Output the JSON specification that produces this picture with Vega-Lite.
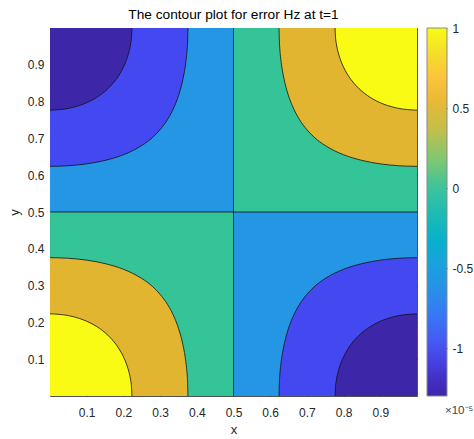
{
"$schema": "https://vega.github.io/schema/vega-lite/v6.json",
"background": "white",
"padding": {"left": 8, "top": 7, "right": 0, "bottom": 0},
"bounds": "flush",
"spacing": 10,
"config": {
  "font": "Liberation Sans",
  "view": {"stroke": null},
  "axis": {"domainColor": "#262626", "tickColor": "#262626", "labelColor": "#262626", "titleColor": "#262626", "labelFont": "Liberation Sans", "titleFont": "Liberation Sans", "labelFontSize": 12, "titleFontSize": 13, "titleFontWeight": "normal", "grid": false, "tickSize": -4, "domainWidth": 0.8, "tickWidth": 0.8},
  "title": {"font": "Liberation Sans", "fontSize": 13.7, "fontWeight": "normal", "color": "#000000", "offset": 5}
},
"datasets": {
  "quads": [
    {"x": 0, "x2": 0.5, "y": 0, "y2": 0.5, "l": "p0"},
    {"x": 0.5, "x2": 1, "y": 0.5, "y2": 1, "l": "p0"},
    {"x": 0, "x2": 0.5, "y": 0.5, "y2": 1, "l": "n0"},
    {"x": 0.5, "x2": 1, "y": 0, "y2": 0.5, "l": "n0"}
  ],
  "zero": [
    {"x": 0.5, "x2": 0.5, "y": 0, "y2": 1},
    {"x": 0, "x2": 1, "y": 0.5, "y2": 0.5}
  ],
  "outer": [
    {"c":"bl","l":"p1","b":0,"x":0,"y":0.3759},{"c":"bl","l":"p1","b":0,"x":0.05,"y":0.3743},{"c":"bl","l":"p1","b":0,"x":0.1,"y":0.3692},{"c":"bl","l":"p1","b":0,"x":0.15,"y":0.3598},{"c":"bl","l":"p1","b":0,"x":0.2,"y":0.3444},{"c":"bl","l":"p1","b":0,"x":0.225,"y":0.3335},{"c":"bl","l":"p1","b":0,"x":0.25,"y":0.3194},{"c":"bl","l":"p1","b":0,"x":0.28,"y":0.297},{"c":"bl","l":"p1","b":0,"x":0.3,"y":0.2762},{"c":"bl","l":"p1","b":0,"x":0.32,"y":0.2491},{"c":"bl","l":"p1","b":0,"x":0.34,"y":0.2107},{"c":"bl","l":"p1","b":0,"x":0.35,"y":0.1843},{"c":"bl","l":"p1","b":0,"x":0.36,"y":0.149},{"c":"bl","l":"p1","b":0,"x":0.365,"y":0.1252},{"c":"bl","l":"p1","b":0,"x":0.37,"y":0.0939},{"c":"bl","l":"p1","b":0,"x":0.372,"y":0.077},{"c":"bl","l":"p1","b":0,"x":0.374,"y":0.0544},{"c":"bl","l":"p1","b":0,"x":0.375,"y":0.0377},{"c":"bl","l":"p1","b":0,"x":0.3759,"y":0},
    {"c":"tr","l":"p1","b":1,"x":1,"y":0.6241},{"c":"tr","l":"p1","b":1,"x":0.95,"y":0.6257},{"c":"tr","l":"p1","b":1,"x":0.9,"y":0.6308},{"c":"tr","l":"p1","b":1,"x":0.85,"y":0.6402},{"c":"tr","l":"p1","b":1,"x":0.8,"y":0.6556},{"c":"tr","l":"p1","b":1,"x":0.775,"y":0.6665},{"c":"tr","l":"p1","b":1,"x":0.75,"y":0.6806},{"c":"tr","l":"p1","b":1,"x":0.72,"y":0.703},{"c":"tr","l":"p1","b":1,"x":0.7,"y":0.7238},{"c":"tr","l":"p1","b":1,"x":0.68,"y":0.7509},{"c":"tr","l":"p1","b":1,"x":0.66,"y":0.7893},{"c":"tr","l":"p1","b":1,"x":0.65,"y":0.8157},{"c":"tr","l":"p1","b":1,"x":0.64,"y":0.851},{"c":"tr","l":"p1","b":1,"x":0.635,"y":0.8748},{"c":"tr","l":"p1","b":1,"x":0.63,"y":0.9061},{"c":"tr","l":"p1","b":1,"x":0.628,"y":0.923},{"c":"tr","l":"p1","b":1,"x":0.626,"y":0.9456},{"c":"tr","l":"p1","b":1,"x":0.625,"y":0.9623},{"c":"tr","l":"p1","b":1,"x":0.6241,"y":1},
    {"c":"tl","l":"n1","b":1,"x":0,"y":0.6241},{"c":"tl","l":"n1","b":1,"x":0.05,"y":0.6257},{"c":"tl","l":"n1","b":1,"x":0.1,"y":0.6308},{"c":"tl","l":"n1","b":1,"x":0.15,"y":0.6402},{"c":"tl","l":"n1","b":1,"x":0.2,"y":0.6556},{"c":"tl","l":"n1","b":1,"x":0.225,"y":0.6665},{"c":"tl","l":"n1","b":1,"x":0.25,"y":0.6806},{"c":"tl","l":"n1","b":1,"x":0.28,"y":0.703},{"c":"tl","l":"n1","b":1,"x":0.3,"y":0.7238},{"c":"tl","l":"n1","b":1,"x":0.32,"y":0.7509},{"c":"tl","l":"n1","b":1,"x":0.34,"y":0.7893},{"c":"tl","l":"n1","b":1,"x":0.35,"y":0.8157},{"c":"tl","l":"n1","b":1,"x":0.36,"y":0.851},{"c":"tl","l":"n1","b":1,"x":0.365,"y":0.8748},{"c":"tl","l":"n1","b":1,"x":0.37,"y":0.9061},{"c":"tl","l":"n1","b":1,"x":0.372,"y":0.923},{"c":"tl","l":"n1","b":1,"x":0.374,"y":0.9456},{"c":"tl","l":"n1","b":1,"x":0.375,"y":0.9623},{"c":"tl","l":"n1","b":1,"x":0.3759,"y":1},
    {"c":"br","l":"n1","b":0,"x":1,"y":0.3759},{"c":"br","l":"n1","b":0,"x":0.95,"y":0.3743},{"c":"br","l":"n1","b":0,"x":0.9,"y":0.3692},{"c":"br","l":"n1","b":0,"x":0.85,"y":0.3598},{"c":"br","l":"n1","b":0,"x":0.8,"y":0.3444},{"c":"br","l":"n1","b":0,"x":0.775,"y":0.3335},{"c":"br","l":"n1","b":0,"x":0.75,"y":0.3194},{"c":"br","l":"n1","b":0,"x":0.72,"y":0.297},{"c":"br","l":"n1","b":0,"x":0.7,"y":0.2762},{"c":"br","l":"n1","b":0,"x":0.68,"y":0.2491},{"c":"br","l":"n1","b":0,"x":0.66,"y":0.2107},{"c":"br","l":"n1","b":0,"x":0.65,"y":0.1843},{"c":"br","l":"n1","b":0,"x":0.64,"y":0.149},{"c":"br","l":"n1","b":0,"x":0.635,"y":0.1252},{"c":"br","l":"n1","b":0,"x":0.63,"y":0.0939},{"c":"br","l":"n1","b":0,"x":0.628,"y":0.077},{"c":"br","l":"n1","b":0,"x":0.626,"y":0.0544},{"c":"br","l":"n1","b":0,"x":0.625,"y":0.0377},{"c":"br","l":"n1","b":0,"x":0.6241,"y":0}
  ],
  "inner": [
    {"c":"bl","l":"p2","b":0,"x":0,"y":0.2233},{"c":"bl","l":"p2","b":0,"x":0.05,"y":0.2185},{"c":"bl","l":"p2","b":0,"x":0.08,"y":0.2107},{"c":"bl","l":"p2","b":0,"x":0.1,"y":0.2031},{"c":"bl","l":"p2","b":0,"x":0.12,"y":0.1931},{"c":"bl","l":"p2","b":0,"x":0.135,"y":0.1836},{"c":"bl","l":"p2","b":0,"x":0.15,"y":0.172},{"c":"bl","l":"p2","b":0,"x":0.165,"y":0.1578},{"c":"bl","l":"p2","b":0,"x":0.18,"y":0.14},{"c":"bl","l":"p2","b":0,"x":0.19,"y":0.1251},{"c":"bl","l":"p2","b":0,"x":0.2,"y":0.1067},{"c":"bl","l":"p2","b":0,"x":0.21,"y":0.0821},{"c":"bl","l":"p2","b":0,"x":0.215,"y":0.0654},{"c":"bl","l":"p2","b":0,"x":0.22,"y":0.0414},{"c":"bl","l":"p2","b":0,"x":0.222,"y":0.0257},{"c":"bl","l":"p2","b":0,"x":0.2233,"y":0},
    {"c":"tr","l":"p2","b":1,"x":1,"y":0.7767},{"c":"tr","l":"p2","b":1,"x":0.95,"y":0.7815},{"c":"tr","l":"p2","b":1,"x":0.92,"y":0.7893},{"c":"tr","l":"p2","b":1,"x":0.9,"y":0.7969},{"c":"tr","l":"p2","b":1,"x":0.88,"y":0.8069},{"c":"tr","l":"p2","b":1,"x":0.865,"y":0.8164},{"c":"tr","l":"p2","b":1,"x":0.85,"y":0.828},{"c":"tr","l":"p2","b":1,"x":0.835,"y":0.8422},{"c":"tr","l":"p2","b":1,"x":0.82,"y":0.86},{"c":"tr","l":"p2","b":1,"x":0.81,"y":0.8749},{"c":"tr","l":"p2","b":1,"x":0.8,"y":0.8933},{"c":"tr","l":"p2","b":1,"x":0.79,"y":0.9179},{"c":"tr","l":"p2","b":1,"x":0.785,"y":0.9346},{"c":"tr","l":"p2","b":1,"x":0.78,"y":0.9586},{"c":"tr","l":"p2","b":1,"x":0.778,"y":0.9743},{"c":"tr","l":"p2","b":1,"x":0.7767,"y":1},
    {"c":"tl","l":"n2","b":1,"x":0,"y":0.7767},{"c":"tl","l":"n2","b":1,"x":0.05,"y":0.7815},{"c":"tl","l":"n2","b":1,"x":0.08,"y":0.7893},{"c":"tl","l":"n2","b":1,"x":0.1,"y":0.7969},{"c":"tl","l":"n2","b":1,"x":0.12,"y":0.8069},{"c":"tl","l":"n2","b":1,"x":0.135,"y":0.8164},{"c":"tl","l":"n2","b":1,"x":0.15,"y":0.828},{"c":"tl","l":"n2","b":1,"x":0.165,"y":0.8422},{"c":"tl","l":"n2","b":1,"x":0.18,"y":0.86},{"c":"tl","l":"n2","b":1,"x":0.19,"y":0.8749},{"c":"tl","l":"n2","b":1,"x":0.2,"y":0.8933},{"c":"tl","l":"n2","b":1,"x":0.21,"y":0.9179},{"c":"tl","l":"n2","b":1,"x":0.215,"y":0.9346},{"c":"tl","l":"n2","b":1,"x":0.22,"y":0.9586},{"c":"tl","l":"n2","b":1,"x":0.222,"y":0.9743},{"c":"tl","l":"n2","b":1,"x":0.2233,"y":1},
    {"c":"br","l":"n2","b":0,"x":1,"y":0.2233},{"c":"br","l":"n2","b":0,"x":0.95,"y":0.2185},{"c":"br","l":"n2","b":0,"x":0.92,"y":0.2107},{"c":"br","l":"n2","b":0,"x":0.9,"y":0.2031},{"c":"br","l":"n2","b":0,"x":0.88,"y":0.1931},{"c":"br","l":"n2","b":0,"x":0.865,"y":0.1836},{"c":"br","l":"n2","b":0,"x":0.85,"y":0.172},{"c":"br","l":"n2","b":0,"x":0.835,"y":0.1578},{"c":"br","l":"n2","b":0,"x":0.82,"y":0.14},{"c":"br","l":"n2","b":0,"x":0.81,"y":0.1251},{"c":"br","l":"n2","b":0,"x":0.8,"y":0.1067},{"c":"br","l":"n2","b":0,"x":0.79,"y":0.0821},{"c":"br","l":"n2","b":0,"x":0.785,"y":0.0654},{"c":"br","l":"n2","b":0,"x":0.78,"y":0.0414},{"c":"br","l":"n2","b":0,"x":0.778,"y":0.0257},{"c":"br","l":"n2","b":0,"x":0.7767,"y":0}
  ],
  "cbar": [{"lo": -1.3, "hi": 1.0}]
},
"hconcat": [
  {
    "width": 367,
    "height": 368,
    "title": {"text": "The contour plot for error Hz at t=1"},
    "layer": [
      {
        "data": {"name": "quads"},
        "mark": {"type": "rect"},
        "encoding": {
          "x": {"field": "x", "type": "quantitative", "scale": {"domain": [0, 1], "nice": false, "zero": false}, "axis": {"orient": "bottom", "values": [0.1,0.2,0.3,0.4,0.5,0.6,0.7,0.8,0.9], "format": ".1f", "title": "x", "labelPadding": 15, "titlePadding": 5}},
          "x2": {"field": "x2"},
          "y": {"field": "y", "type": "quantitative", "scale": {"domain": [0, 1], "nice": false, "zero": false}, "axis": {"orient": "left", "values": [0.1,0.2,0.3,0.4,0.5,0.6,0.7,0.8,0.9], "format": ".1f", "title": "y", "labelPadding": 10, "titlePadding": 6}},
          "y2": {"field": "y2"},
          "fill": {"field": "l", "type": "nominal", "scale": {"domain": ["n2","n1","n0","p0","p1","p2"], "range": ["#3d26a8","#4448f0","#2596e4","#35c498","#e2b530","#f9fb15"]}, "legend": null}
        }
      },
      {
        "data": {"name": "outer"},
        "mark": {"type": "area", "interpolate": "monotone"},
        "encoding": {
          "x": {"field": "x", "type": "quantitative", "axis": null},
          "y": {"field": "y", "type": "quantitative", "axis": null},
          "y2": {"field": "b"},
          "fill": {"field": "l", "type": "nominal", "legend": null},
          "detail": {"field": "c"}
        }
      },
      {
        "data": {"name": "outer"},
        "mark": {"type": "line", "interpolate": "monotone", "color": "#111111", "strokeWidth": 0.8},
        "encoding": {
          "x": {"field": "x", "type": "quantitative", "axis": null},
          "y": {"field": "y", "type": "quantitative", "axis": null},
          "detail": {"field": "c"}
        }
      },
      {
        "data": {"name": "inner"},
        "mark": {"type": "area", "interpolate": "monotone"},
        "encoding": {
          "x": {"field": "x", "type": "quantitative", "axis": null},
          "y": {"field": "y", "type": "quantitative", "axis": null},
          "y2": {"field": "b"},
          "fill": {"field": "l", "type": "nominal", "legend": null},
          "detail": {"field": "c"}
        }
      },
      {
        "data": {"name": "inner"},
        "mark": {"type": "line", "interpolate": "monotone", "color": "#111111", "strokeWidth": 0.8},
        "encoding": {
          "x": {"field": "x", "type": "quantitative", "axis": null},
          "y": {"field": "y", "type": "quantitative", "axis": null},
          "detail": {"field": "c"}
        }
      },
      {
        "data": {"name": "zero"},
        "mark": {"type": "rule", "color": "#111111", "strokeWidth": 0.8},
        "encoding": {
          "x": {"field": "x", "type": "quantitative", "axis": {"orient": "top", "values": [0.1,0.2,0.3,0.4,0.5,0.6,0.7,0.8,0.9], "labels": false, "title": null}},
          "x2": {"field": "x2"},
          "y": {"field": "y", "type": "quantitative", "axis": {"orient": "right", "values": [0.1,0.2,0.3,0.4,0.5,0.6,0.7,0.8,0.9], "labels": false, "title": null}},
          "y2": {"field": "y2"}
        }
      }
    ],
    "resolve": {"axis": {"x": "independent", "y": "independent"}}
  },
  {
    "width": 20,
    "height": 368,
    "title": {"text": "×10⁻⁵", "orient": "bottom", "anchor": "start", "frame": "group", "dx": 18, "offset": 8, "fontSize": 11.5, "color": "#404040"},
    "data": {"name": "cbar"},
    "mark": {"type": "rect", "stroke": "#8a8a8a", "strokeWidth": 1, "fill": {"gradient": "linear", "x1": 0, "y1": 1, "x2": 0, "y2": 0, "stops": [
      {"offset": 0, "color": "#3e26a8"},
      {"offset": 0.05, "color": "#4431c7"},
      {"offset": 0.1, "color": "#4644e6"},
      {"offset": 0.15, "color": "#4659f4"},
      {"offset": 0.22, "color": "#3778f6"},
      {"offset": 0.3, "color": "#2594e6"},
      {"offset": 0.36, "color": "#1aa2dc"},
      {"offset": 0.42, "color": "#06b0cf"},
      {"offset": 0.5, "color": "#1fbcb0"},
      {"offset": 0.57, "color": "#3fc49a"},
      {"offset": 0.64, "color": "#7cc872"},
      {"offset": 0.72, "color": "#c0bf4c"},
      {"offset": 0.8, "color": "#e9b935"},
      {"offset": 0.87, "color": "#fec43c"},
      {"offset": 0.93, "color": "#f4dd2c"},
      {"offset": 1, "color": "#f9fb15"}
    ]}},
    "encoding": {
      "y": {"field": "lo", "type": "quantitative", "scale": {"domain": [-1.3, 1.0], "nice": false, "zero": false}, "axis": {"orient": "right", "values": [-1, -0.5, 0, 0.5, 1], "labelExpr": "'' + datum.value", "domain": false, "tickSize": -3, "labelPadding": 8, "title": null}},
      "y2": {"field": "hi"}
    }
  }
]
}
